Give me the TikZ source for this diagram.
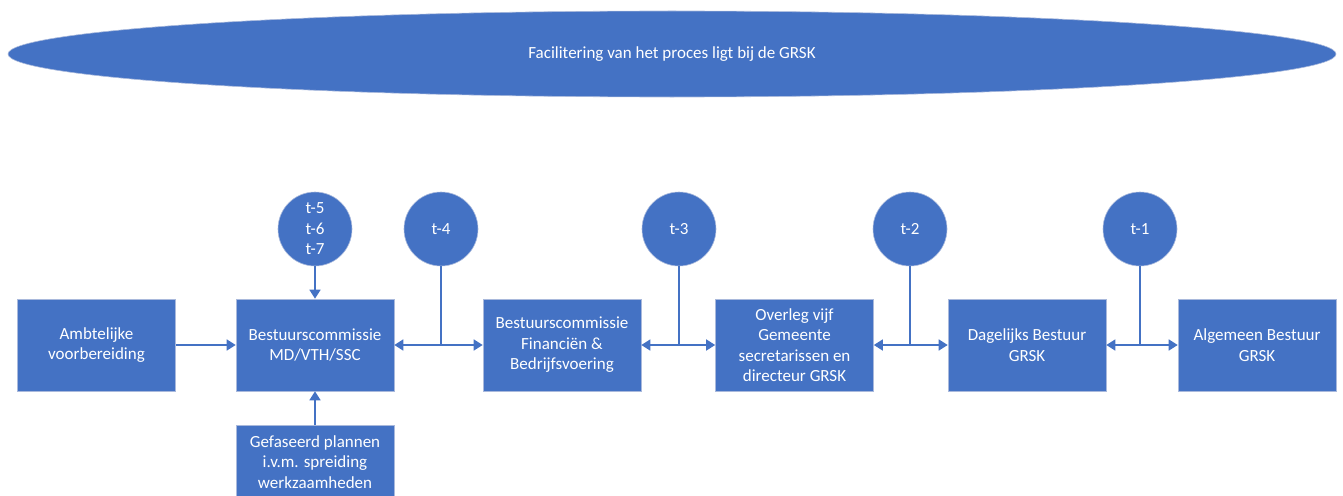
\documentclass[tikz,border=0pt]{standalone}
\usepackage{fontspec}
\setmainfont{Carlito}
\usetikzlibrary{arrows.meta,shapes.geometric}
\definecolor{obl}{HTML}{4472C4}
\definecolor{oedge}{HTML}{A9B9DC}
\tikzset{
  txt/.style={text=white, align=center, font=\fontsize{17}{20.4}\selectfont},
  box/.style={rectangle, fill=obl, draw=oedge, line width=0.6pt, minimum width=158pt, minimum height=92pt, txt, inner sep=0pt},
  tc/.style={circle, fill=obl, draw=oedge, line width=0.6pt, minimum size=74pt, txt, inner sep=0pt},
  conn/.style={draw=obl, line width=1.5pt},
  arr/.style={conn, -{Triangle[length=9pt,width=11pt]}},
  darr/.style={conn, {Triangle[length=9pt,width=11pt]}-{Triangle[length=9pt,width=11pt]}}
}
\begin{document}
\begin{tikzpicture}[x=1pt,y=-1pt]
\useasboundingbox (0,0) rectangle (1343,495);
\clip (0,0) rectangle (1343,495);
\node[ellipse, fill=obl, draw=oedge, line width=0.6pt, minimum width=1328pt, minimum height=86pt, inner sep=0pt, txt] (top) at (672,54) {Facilitering van het proces ligt bij de GRSK};

\node[box] (amb) at (96.5,345) {Ambtelijke\\voorbereiding};
\node[box] (md) at (315,345) {Bestuurscommissie\\MD/VTH/SSC};
\node[box] (gef) at (315,471) {};
\node[txt] (geft) at (315,462) {Gefaseerd plannen\\i.v.m. spreiding\\werkzaamheden};
\node[box] (fin) at (562,345) {Bestuurscommissie\\Financiën \&\\Bedrijfsvoering};
\node[box] (ovl) at (794.5,345) {Overleg vijf\\Gemeente\\secretarissen en\\directeur GRSK};
\node[box] (dag) at (1027,345) {Dagelijks Bestuur\\GRSK};
\node[box] (alg) at (1257,345) {Algemeen Bestuur\\GRSK};

\node[tc] (t5) at (315,229) {t-5\\t-6\\t-7};
\node[tc] (t4) at (441,229) {t-4};
\node[tc] (t3) at (679,229) {t-3};
\node[tc] (t2) at (910,229) {t-2};
\node[tc] (t1) at (1140,229) {t-1};

\draw[arr] (amb.east) -- (md.west);
\draw[arr] (t5.south) -- (md.north);
\draw[arr] (gef.north) -- (md.south);

\draw[darr] (md.east) -- (fin.west);
\draw[conn] (t4.south) -- (t4.south |- md.east);
\draw[darr] (fin.east) -- (ovl.west);
\draw[conn] (t3.south) -- (t3.south |- fin.east);
\draw[darr] (ovl.east) -- (dag.west);
\draw[conn] (t2.south) -- (t2.south |- ovl.east);
\draw[darr] (dag.east) -- (alg.west);
\draw[conn] (t1.south) -- (t1.south |- dag.east);
\end{tikzpicture}
\end{document}
